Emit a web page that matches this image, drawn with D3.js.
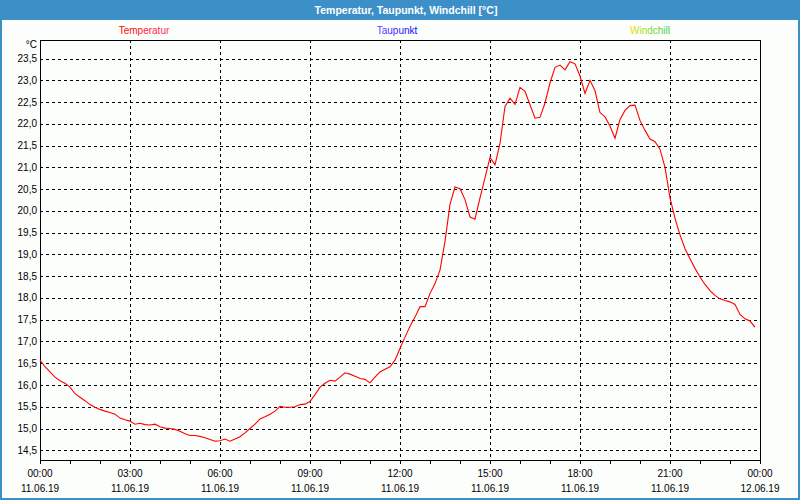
<!DOCTYPE html>
<html>
<head>
<meta charset="utf-8">
<script src="https://cdn.jsdelivr.net/npm/d3@7"></script>
<style>
  html, body { margin: 0; padding: 0; background: #fcfefc; }
  svg { display: block; }
  text { font-family: "Liberation Sans", "DejaVu Sans", sans-serif; }
</style>
</head>
<body>
<svg id="chart" width="800" height="500"></svg>
<script>
// ---- data (10-minute readings, 11.06.19 00:00 .. 23:50) ----
const startTime = "2019-06-11T00:00:00";
const stepMinutes = 10;
const temperatur = [
  16.57, 16.42, 16.30, 16.18, 16.10, 16.04, 15.95, 15.80, 15.72, 15.64, 15.55, 15.49,
  15.44, 15.40, 15.37, 15.33, 15.24, 15.20, 15.17, 15.10, 15.12, 15.09, 15.08, 15.10,
  15.04, 15.01, 15.00, 14.98, 14.94, 14.88, 14.84, 14.84, 14.82, 14.79, 14.75, 14.71,
  14.72, 14.76, 14.71, 14.76, 14.81, 14.90, 15.00, 15.10, 15.22, 15.27, 15.33, 15.40,
  15.51, 15.49, 15.49, 15.50, 15.55, 15.56, 15.62, 15.78, 15.95, 16.04, 16.11, 16.09,
  16.18, 16.28, 16.25, 16.20, 16.15, 16.13, 16.05, 16.18, 16.30, 16.36, 16.42, 16.57,
  16.84, 17.10, 17.35, 17.56, 17.80, 17.80, 18.10, 18.33, 18.64, 19.30, 20.15, 20.55,
  20.51, 20.26, 19.86, 19.81, 20.30, 20.76, 21.23, 21.06, 21.55, 22.40, 22.59, 22.45,
  22.84, 22.75, 22.44, 22.13, 22.15, 22.48, 22.94, 23.30, 23.35, 23.24, 23.43, 23.38,
  23.10, 22.70, 23.00, 22.76, 22.26, 22.16, 21.95, 21.67, 22.10, 22.31, 22.42, 22.43,
  22.08, 21.85, 21.65, 21.59, 21.42, 21.00, 20.30, 19.83, 19.45, 19.13, 18.90, 18.68,
  18.48, 18.31, 18.17, 18.06, 17.98, 17.94, 17.91, 17.85, 17.62, 17.52, 17.47, 17.33
];
const seriesNames = ["Temperatur", "Taupunkt", "Windchill"];
const yTicks = [14.5, 15.0, 15.5, 16.0, 16.5, 17.0, 17.5, 18.0, 18.5, 19.0, 19.5, 20.0,
                20.5, 21.0, 21.5, 22.0, 22.5, 23.0, 23.5];
const xTickHours = [0, 3, 6, 9, 12, 15, 18, 21, 24];
const yDomain = [14.277, 23.927];
const titleText = "Temperatur, Taupunkt, Windchill [°C]";
const unitText = "°C";

// ---- layout ----
const W = 800, H = 500;
const L = 40, R = 760, T = 40, B = 460;

const svg = d3.select("#chart");
const defs = svg.append("defs");

const t0 = new Date(startTime);
const t1 = new Date(t0.getTime() + 24 * 3600 * 1000);
const x = d3.scaleTime().domain([t0, t1]).range([L, R]);
const y = d3.scaleLinear().domain(yDomain).range([B, T]);

const data = temperatur.map((v, i) => ({
  t: new Date(t0.getTime() + i * stepMinutes * 60000), v
}));

// background
svg.append("rect").attr("x", 0).attr("y", 0).attr("width", W).attr("height", H)
  .attr("fill", "#fcfefc");

// title bar
svg.append("rect").attr("x", 0).attr("y", 0).attr("width", W).attr("height", 20)
  .attr("fill", "#3c90c7");
svg.append("text").attr("x", 406).attr("y", 14).attr("text-anchor", "middle")
  .attr("fill", "#ffffff").attr("font-weight", "bold").attr("font-size", "10.5px")
  .text(titleText);

// outer frame
svg.append("rect").attr("x", 1).attr("y", 1).attr("width", W - 2).attr("height", H - 2)
  .attr("fill", "none").attr("stroke", "#3c90c7").attr("stroke-width", 2);

// legend gradients
const grads = [
  { id: "gT", c: ["#ff0000", "#ff2a6a"] },
  { id: "gP", c: ["#6a3cff", "#0000ff"] },
  { id: "gW", c: ["#e8e000", "#30d050"] }
];
grads.forEach(g => {
  const lg = defs.append("linearGradient").attr("id", g.id)
    .attr("x1", "0%").attr("x2", "100%").attr("y1", "0%").attr("y2", "0%");
  lg.append("stop").attr("offset", "0%").attr("stop-color", g.c[0]);
  lg.append("stop").attr("offset", "100%").attr("stop-color", g.c[1]);
});
const legendX = [144, 397, 650];
seriesNames.forEach((n, i) => {
  svg.append("text").attr("x", legendX[i]).attr("y", 34).attr("text-anchor", "middle")
    .attr("font-size", "10px").attr("fill", `url(#${grads[i].id})`).text(n);
});

// horizontal grid
const g = svg.append("g").attr("shape-rendering", "crispEdges");
g.selectAll(".hg").data(yTicks).join("line")
  .attr("x1", L).attr("x2", R)
  .attr("y1", d => Math.round(y(d)) + 0.5).attr("y2", d => Math.round(y(d)) + 0.5)
  .attr("stroke", "#000").attr("stroke-dasharray", "3,3");

// vertical grid
const vHours = xTickHours.filter(h => h > 0 && h < 24);
g.selectAll(".vg").data(vHours).join("line")
  .attr("x1", d => Math.round(x(new Date(t0.getTime() + d * 3600000))) + 0.5)
  .attr("x2", d => Math.round(x(new Date(t0.getTime() + d * 3600000))) + 0.5)
  .attr("y1", T).attr("y2", B)
  .attr("stroke", "#000").attr("stroke-dasharray", "3,3");

// x axis (hourly ticks, labels every 3 h)
const fmtTime = d3.timeFormat("%H:%M");
const fmtDate = d3.timeFormat("%d.%m.%y");
const xAxis = d3.axisBottom(x).ticks(d3.timeHour.every(1)).tickSize(4).tickFormat("");
const xa = svg.append("g").attr("transform", `translate(0,${B})`).call(xAxis);
xa.select(".domain").remove();
xa.selectAll(".tick line").attr("stroke", "#000").attr("shape-rendering", "crispEdges");

const labelTimes = xTickHours.map(h => new Date(t0.getTime() + h * 3600000));
const xl = svg.append("g");
xl.selectAll(".tl").data(labelTimes).join("text")
  .attr("x", d => x(d)).attr("y", 477).attr("text-anchor", "middle")
  .attr("font-size", "10px").attr("fill", "#000").text(d => fmtTime(d));
xl.selectAll(".dl").data(labelTimes).join("text")
  .attr("x", d => x(d)).attr("y", 492).attr("text-anchor", "middle")
  .attr("font-size", "10px").attr("fill", "#000").text(d => fmtDate(d));

// y axis labels
const fmtY = v => d3.format(".1f")(v).replace(".", ",");
const yl = svg.append("g");
yl.selectAll("text").data(yTicks).join("text")
  .attr("x", 37).attr("y", d => y(d) + 3.5).attr("text-anchor", "end")
  .attr("font-size", "10px").attr("fill", "#000").text(fmtY);
svg.append("text").attr("x", 37).attr("y", 48).attr("text-anchor", "end")
  .attr("font-size", "10px").attr("fill", "#000").text(unitText);

// plot frame
svg.append("rect").attr("x", L + 0.5).attr("y", T + 0.5)
  .attr("width", R - L - 1 + 1).attr("height", B - T)
  .attr("fill", "none").attr("stroke", "#000").attr("shape-rendering", "crispEdges");

// temperature line
const line = d3.line().x(d => x(d.t)).y(d => y(d.v));
svg.append("path").datum(data).attr("d", line)
  .attr("fill", "none").attr("stroke", "#ff0000").attr("stroke-width", 1.1);
</script>
</body>
</html>
